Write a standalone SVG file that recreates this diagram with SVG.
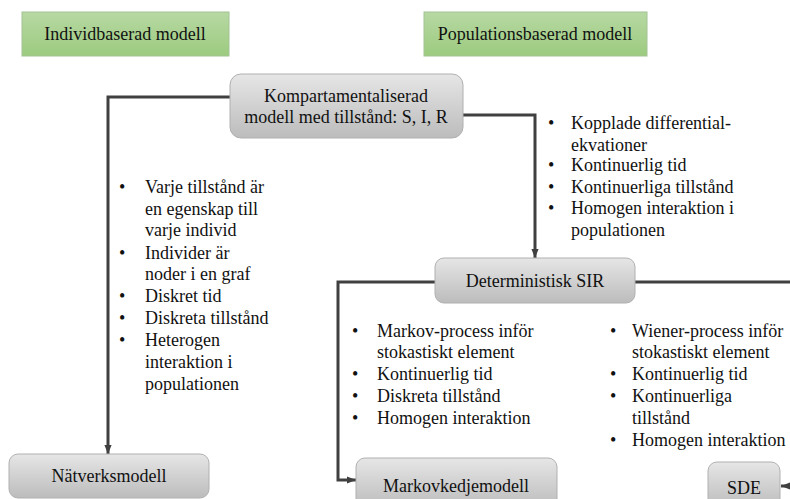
<svg xmlns="http://www.w3.org/2000/svg" width="790" height="499" viewBox="0 0 790 499">
<defs>
<linearGradient id="gray" x1="0" y1="0" x2="0" y2="1">
<stop offset="0" stop-color="#e6e6e6"/>
<stop offset="1" stop-color="#bcbcbc"/>
</linearGradient>
<linearGradient id="green" x1="0" y1="0" x2="0" y2="1">
<stop offset="0" stop-color="#b7d8a3"/>
<stop offset="1" stop-color="#9ccb7f"/>
</linearGradient>
<marker id="arr" markerUnits="userSpaceOnUse" markerWidth="9" markerHeight="9" viewBox="0 0 10 10" refX="10" refY="5" orient="auto">
<path d="M0,1 L10,5 L0,9 Z" fill="#404040"/>
</marker>
<style>
text{font-family:"Liberation Serif","Times New Roman",serif;font-size:18px;fill:#111}
.c{text-anchor:middle}
.box{fill:url(#gray);stroke:#b0b0b0;stroke-width:1}
.gbox{fill:url(#green);stroke:#a3c493;stroke-width:1}
.conn{fill:none;stroke:#404040;stroke-width:3}
</style>
</defs>

<g id="connectors">
<polyline class="conn" points="230,97 108,97 108,454" marker-end="url(#arr)"/>
<polyline class="conn" points="463,115 535,115 535,258" marker-end="url(#arr)"/>
<polyline class="conn" points="435,282 338,282 338,480 356,480" marker-end="url(#arr)"/>
<polyline class="conn" points="635,282 792,282"/>
<line class="conn" x1="792" y1="486" x2="781" y2="486" stroke-width="2" marker-end="url(#arr)"/>
</g>

<g id="individbaserad">
<rect class="gbox" x="22" y="12" width="207" height="44"/>
<text class="c" x="125" y="40">Individbaserad modell</text>
</g>

<g id="populationsbaserad">
<rect class="gbox" x="424" y="12" width="223" height="44"/>
<text class="c" x="535" y="40">Populationsbaserad modell</text>
</g>

<g id="kompartment">
<rect class="box" x="230" y="74" width="233" height="64" rx="11"/>
<text class="c" x="346" y="102">Kompartamentaliserad</text>
<text class="c" x="346" y="123">modell med tillstånd: S, I, R</text>
</g>

<g id="deterministisk">
<rect class="box" x="435" y="258" width="200" height="45" rx="9"/>
<text class="c" x="535" y="287">Deterministisk SIR</text>
</g>

<g id="natverk">
<rect class="box" x="9" y="454" width="200" height="44" rx="9"/>
<text class="c" x="109" y="482">Nätverksmodell</text>
</g>

<g id="markov">
<rect class="box" x="356" y="458" width="201" height="50" rx="9"/>
<text class="c" x="456" y="492">Markovkedjemodell</text>
</g>

<g id="sde">
<rect class="box" x="708" y="462" width="72" height="46" rx="9"/>
<text class="c" x="744" y="494">SDE</text>
</g>

<g id="list-individ">
<text x="119" y="193">•</text><text x="145" y="193">Varje tillstånd är</text>
<text x="145" y="215">en egenskap till</text>
<text x="145" y="236">varje individ</text>
<text x="119" y="259">•</text><text x="145" y="259">Individer är</text>
<text x="145" y="280">noder i en graf</text>
<text x="119" y="302">•</text><text x="145" y="302">Diskret tid</text>
<text x="119" y="324">•</text><text x="145" y="324">Diskreta tillstånd</text>
<text x="119" y="346">•</text><text x="145" y="346">Heterogen</text>
<text x="145" y="368">interaktion i</text>
<text x="145" y="390">populationen</text>
</g>

<g id="list-population">
<text x="548" y="129">•</text><text x="571" y="129">Kopplade differential-</text>
<text x="571" y="151">ekvationer</text>
<text x="548" y="171">•</text><text x="571" y="171">Kontinuerlig tid</text>
<text x="548" y="193">•</text><text x="571" y="193">Kontinuerliga tillstånd</text>
<text x="548" y="214">•</text><text x="571" y="214">Homogen interaktion i</text>
<text x="571" y="236">populationen</text>
</g>

<g id="list-markov">
<text x="352" y="337">•</text><text x="377" y="337">Markov-process inför</text>
<text x="377" y="358">stokastiskt element</text>
<text x="352" y="380">•</text><text x="377" y="380">Kontinuerlig tid</text>
<text x="352" y="402">•</text><text x="377" y="402">Diskreta tillstånd</text>
<text x="352" y="424">•</text><text x="377" y="424">Homogen interaktion</text>
</g>

<g id="list-sde">
<text x="610" y="337">•</text><text x="632" y="337">Wiener-process inför</text>
<text x="632" y="358">stokastiskt element</text>
<text x="610" y="380">•</text><text x="632" y="380">Kontinuerlig tid</text>
<text x="610" y="402">•</text><text x="632" y="402">Kontinuerliga</text>
<text x="632" y="424">tillstånd</text>
<text x="610" y="446">•</text><text x="632" y="446">Homogen interaktion</text>
</g>
</svg>
